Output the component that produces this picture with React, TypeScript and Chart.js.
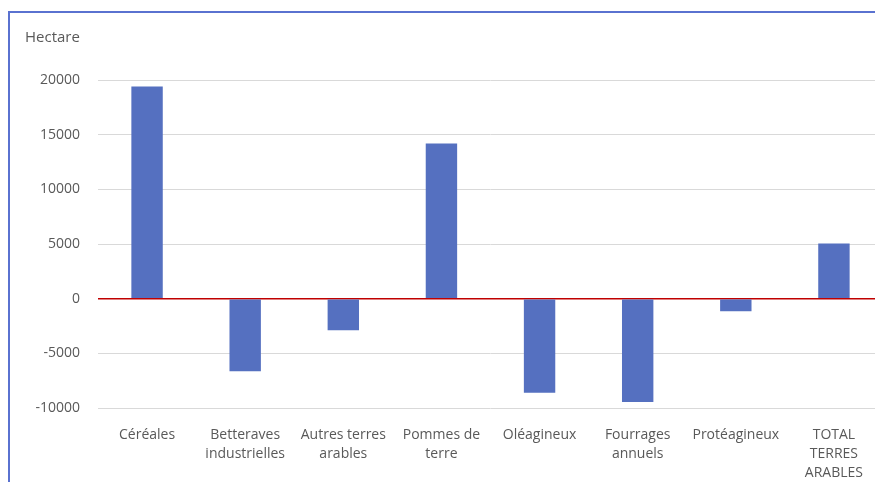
import React, { useEffect, useRef } from "react";
import { Chart, registerables } from "chart.js";

Chart.register(...registerables);

const categories: (string | string[])[] = [
  "Céréales",
  ["Betteraves", "industrielles"],
  ["Autres terres", "arables"],
  ["Pommes de", "terre"],
  "Oléagineux",
  ["Fourrages", "annuels"],
  "Protéagineux",
  ["TOTAL", "TERRES", "ARABLES"],
];
const values = [19400, -6650, -2900, 14200, -8600, -9450, -1150, 5050];
const yMin = -10000;
const yMax = 20000;
const yStep = 5000;
const unitLabel = "Hectare";

const FONT = "'Open Sans', sans-serif";
const TEXT = "#595959";

export default function App() {
  const ref = useRef<HTMLCanvasElement | null>(null);
  useEffect(() => {
    document.body.style.overflow = "hidden";
    const ctx = ref.current!;
    const chart = new Chart(ctx, {
      type: "bar",
      data: {
        labels: categories,
        datasets: [
          {
            data: values,
            backgroundColor: "#5570c0",
            barPercentage: 0.32,
            categoryPercentage: 1,
          },
        ],
      },
      options: {
        animation: false,
        responsive: false,
        maintainAspectRatio: false,
        layout: { padding: { left: 15, right: 0, top: 16, bottom: 0 } },
        plugins: {
          legend: { display: false },
          tooltip: { enabled: false },
          title: {
            display: true,
            text: unitLabel,
            align: "start",
            color: TEXT,
            font: { family: FONT, size: 15, weight: "normal", lineHeight: 1.2 },
            padding: { top: 0, bottom: 33 },
          },
        },
        scales: {
          x: {
            grid: { display: false },
            border: { display: false },
            ticks: {
              color: TEXT,
              font: { family: FONT, size: 14, lineHeight: 1.36 },
              padding: 9,
              maxRotation: 0,
              autoSkip: false,
            },
            afterFit: (s: any) => {
              s.height = 74;
            },
          },
          y: {
            min: yMin,
            max: yMax,
            border: { display: false },
            grid: {
              color: (c: any) => (c.tick && c.tick.value === 0 ? "#c00000" : "#d9d9d9"),
              lineWidth: (c: any) => (c.tick && c.tick.value === 0 ? 1.5 : 1),
              drawTicks: false,
            },
            ticks: {
              stepSize: yStep,
              color: TEXT,
              font: { family: FONT, size: 14 },
              padding: 18,
              callback: (v: any) => String(v),
            },
            afterFit: (s: any) => {
              s.width = 73;
            },
          },
        },
      },
    });
    return () => chart.destroy();
  }, []);
  return (
    <div
      style={{
        marginTop: 3,
        borderTop: "2px solid #5a72d0",
        borderLeft: "2px solid #5a72d0",
        width: 873,
        height: 469,
      }}
    >
      <canvas ref={ref} width={873} height={469} style={{ display: "block" }} />
    </div>
  );
}
